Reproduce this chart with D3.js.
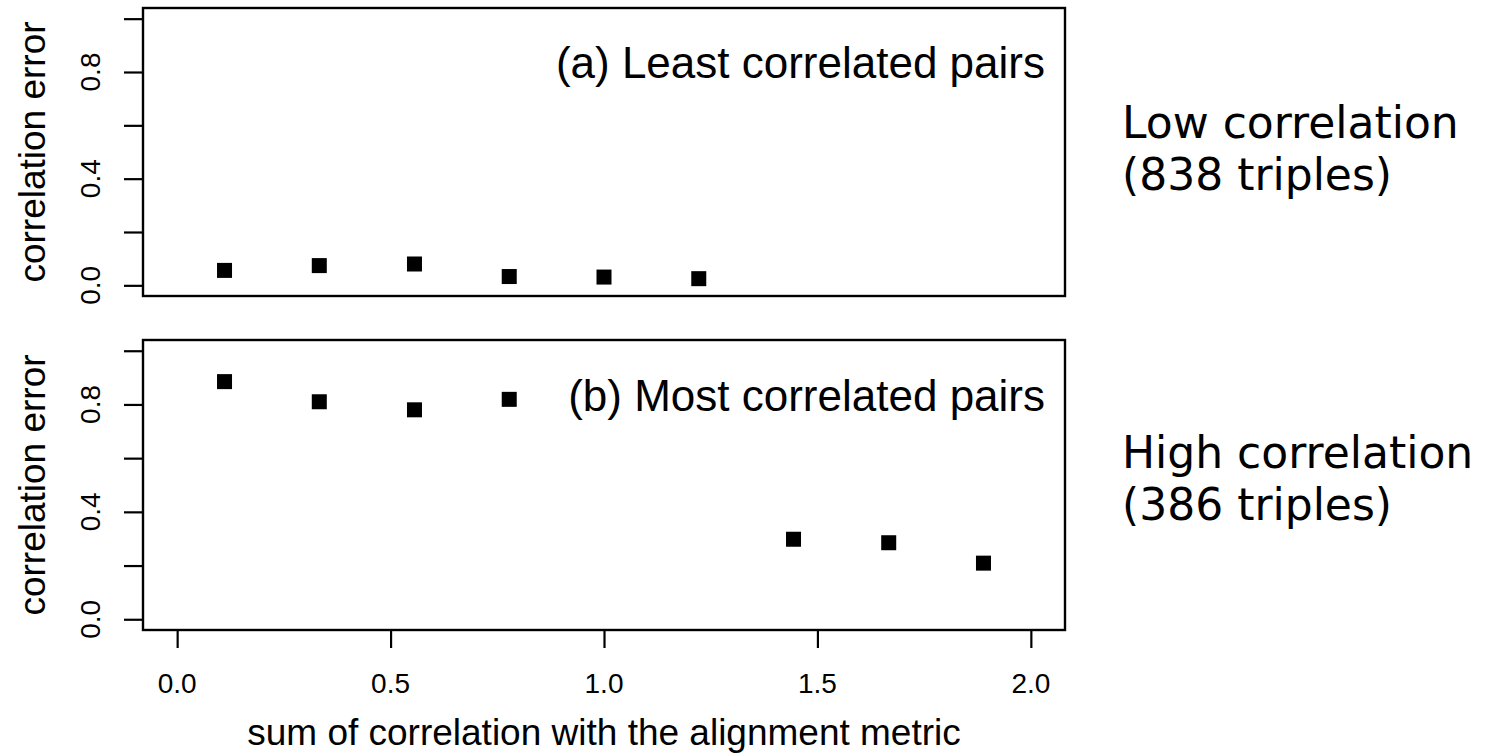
<!DOCTYPE html>
<html>
<head>
<meta charset="utf-8">
<script src="https://cdn.jsdelivr.net/npm/d3@7"></script>
<style>
  html, body { margin: 0; padding: 0; background: #ffffff; }
  svg { display: block; }
  .sans { font-family: "Liberation Sans", Arial, Helvetica, sans-serif; fill: #000; }
  .note { font-family: "Comic Sans MS", "DejaVu Sans", sans-serif; fill: #000; }
</style>
</head>
<body>
<svg id="chart" width="1501" height="755"></svg>
<script>
// Bin centres along the alignment-metric axis
const lowBins  = [0.111, 0.333, 0.556, 0.778, 1.000, 1.222];
const highBins = [0.111, 0.333, 0.556, 0.778, 1.444, 1.667, 1.889];

// Mean correlation error per bin
const lowErr  = [0.056, 0.074, 0.080, 0.033, 0.031, 0.025];
const highErr = [0.885, 0.810, 0.780, 0.819, 0.298, 0.285, 0.209];

// Axis ticks and labels
const xTicks = [0, 0.5, 1.0, 1.5, 2.0];
const xTickLabels = ["0.0", "0.5", "1.0", "1.5", "2.0"];
const yTicks = [0, 0.2, 0.4, 0.6, 0.8, 1.0];
const yLabelTicks = [0, 0.4, 0.8];
const yTickLabels = ["0.0", "0.4", "0.8"];

const panelTitles = ["(a) Least correlated pairs", "(b) Most correlated pairs"];
const sideNotes = [["Low correlation", "(838 triples)"], ["High correlation", "(386 triples)"]];
const yTitle = "correlation error";
const xTitle = "sum of correlation with the alignment metric";

const svg = d3.select("#chart");
svg.append("rect").attr("width", 1501).attr("height", 755).attr("fill", "#fff");

const left = 143, right = 1065;
const x = d3.scaleLinear().domain([-0.08, 2.08]).range([left, right]);

const panels = [
  { top: 8,   bottom: 296, xs: lowBins,  ys: lowErr,  titleY: 78,  noteY: [138, 190] },
  { top: 340, bottom: 630, xs: highBins, ys: highErr, titleY: 411, noteY: [468, 520] }
];

panels.forEach((p, i) => {
  const y = d3.scaleLinear().domain([-0.04, 1.04]).range([p.bottom, p.top]);
  const g = svg.append("g");

  // y axis ticks
  const yAxis = d3.axisLeft(y).tickValues(yTicks).tickSize(19).tickFormat("");
  const ya = g.append("g").attr("transform", `translate(${left},0)`).call(yAxis);
  ya.select(".domain").remove();
  ya.selectAll("line").attr("stroke", "#000").attr("stroke-width", 2.2);

  // y tick labels, parallel to the axis
  g.selectAll("text.ytl").data(yLabelTicks).enter().append("text")
    .attr("class", "sans ytl")
    .attr("transform", (d) => `translate(100,${y(d)}) rotate(-90)`)
    .attr("text-anchor", "middle")
    .attr("font-size", 28)
    .text((d, k) => yTickLabels[k]);

  // y axis title
  g.append("text")
    .attr("class", "sans")
    .attr("transform", `translate(45,${(p.top + p.bottom) / 2}) rotate(-90)`)
    .attr("text-anchor", "middle")
    .attr("font-size", 37)
    .text(yTitle);

  // plot frame
  g.append("rect")
    .attr("x", left).attr("y", p.top)
    .attr("width", right - left).attr("height", p.bottom - p.top)
    .attr("fill", "none").attr("stroke", "#000").attr("stroke-width", 2.4);

  // points
  const s = 15;
  g.selectAll("rect.pt").data(p.xs.map((v, k) => [v, p.ys[k]])).enter().append("rect")
    .attr("class", "pt")
    .attr("x", (d) => x(d[0]) - s / 2)
    .attr("y", (d) => y(d[1]) - s / 2)
    .attr("width", s).attr("height", s)
    .attr("fill", "#000");

  // panel title
  g.append("text")
    .attr("class", "sans")
    .attr("x", 1045).attr("y", p.titleY)
    .attr("text-anchor", "end")
    .attr("font-size", 44)
    .text(panelTitles[i]);

  // side note
  sideNotes[i].forEach((line, k) => {
    svg.append("text")
      .attr("class", "note")
      .attr("x", 1122).attr("y", p.noteY[k])
      .attr("font-size", 44)
      .text(line);
  });

  // x axis on the lower panel only
  if (i === 1) {
    const xAxis = d3.axisBottom(x).tickValues(xTicks).tickSize(18).tickFormat("");
    const xa = g.append("g").attr("transform", `translate(0,${p.bottom})`).call(xAxis);
    xa.select(".domain").remove();
    xa.selectAll("line").attr("stroke", "#000").attr("stroke-width", 2.2);

    g.selectAll("text.xtl").data(xTicks).enter().append("text")
      .attr("class", "sans xtl")
      .attr("x", (d) => x(d)).attr("y", 693)
      .attr("text-anchor", "middle")
      .attr("font-size", 28)
      .text((d, k) => xTickLabels[k]);

    g.append("text")
      .attr("class", "sans")
      .attr("x", (left + right) / 2).attr("y", 745)
      .attr("text-anchor", "middle")
      .attr("font-size", 37)
      .text(xTitle);
  }
});
</script>
</body>
</html>
